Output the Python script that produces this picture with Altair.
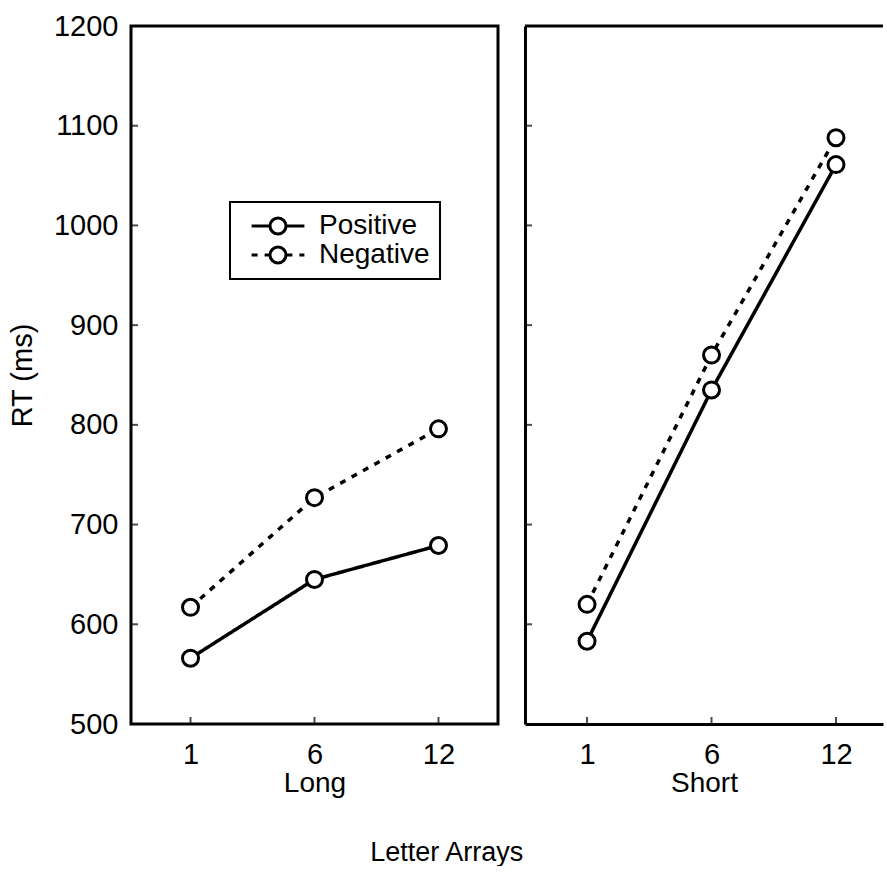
import altair as alt
import pandas as pd

# ---- data ----
x_levels = ["1", "6", "12"]
series_names = ["Positive", "Negative"]
marker_keys = ["pos", "neg"]
long_positive = [566, 645, 679]
long_negative = [617, 727, 796]
short_positive = [583, 835, 1061]
short_negative = [620, 870, 1088]
y_ticks = [500, 600, 700, 800, 900, 1000, 1100, 1200]
panel_titles = ["Long", "Short"]

FONT = "Liberation Sans"
H = 698


def frame(pos, neg):
    rows = []
    for s, k, vals in zip(series_names, marker_keys, [pos, neg]):
        for x, v in zip(x_levels, vals):
            rows.append({"size": x, "series": s, "series_pt": k, "rt": v})
    return pd.DataFrame(rows)


y_scale = alt.Scale(domain=[500, 1200], nice=False, zero=False)
x_scale_left = alt.Scale(type="point", domain=x_levels, padding=0.48)
x_scale_right = alt.Scale(type="point", domain=x_levels, padding=0.438, align=0.569)
dash_scale = alt.Scale(domain=series_names, range=[[1, 0], [6, 7]])
fill_scale = alt.Scale(domain=marker_keys, range=["white", "white"])

LX, LY = 99, 176

leg_line = alt.Legend(
    orient="none", legendX=LX, legendY=LY, title=None,
    symbolType="M-3.3,0L-1.05,0M1.05,0L3.3,0", symbolSize=256,
    symbolStrokeWidth=3, symbolStrokeColor="black", symbolFillColor="transparent",
    symbolOffset=24, labelOffset=27, labelFontSize=28, labelFont=FONT,
    labelColor="black", strokeColor="black", padding=10, rowPadding=1, zindex=1,
)
leg_pt = alt.Legend(
    orient="none", legendX=LX, legendY=LY, title=None,
    symbolType="circle", symbolSize=256, symbolStrokeWidth=3,
    symbolStrokeColor="black", symbolOpacity=1,
    symbolOffset=24, labelOffset=27, labelFontSize=28, labelFont=FONT,
    labelOpacity=0, padding=10, rowPadding=1, zindex=2,
)


def x_axis(title, show_domain):
    return alt.Axis(
        title=title, labelFontSize=29, titleFontSize=28, labelFont=FONT,
        titleFont=FONT, labelPadding=16, titlePadding=0, ticks=False,
        tickSize=0, domain=show_domain, domainColor="black", domainWidth=3,
        grid=False, labelColor="black", titleColor="black",
        titleFontWeight="normal", labelAngle=0,
    )


def y_axis(show):
    if show:
        return alt.Axis(
            title="RT (ms)", values=y_ticks, format="d", labelFontSize=29,
            titleFontSize=29, labelFont=FONT, titleFont=FONT, labelPadding=13,
            titlePadding=15.5, ticks=False, tickSize=0, domain=False, grid=False,
            labelColor="black", titleColor="black", titleFontWeight="normal",
        )
    return alt.Axis(
        title=None, labels=False, ticks=False, tickSize=0, grid=False,
        domain=True, domainColor="black", domainWidth=3,
    )


def panel(pos, neg, title, is_left, width, x_scale):
    df = frame(pos, neg)
    xa = x_axis(title, not is_left)
    ya = y_axis(is_left)

    def xenc():
        return alt.X("size:N", scale=x_scale, sort=x_levels, axis=xa)

    def yenc():
        return alt.Y("rt:Q", scale=y_scale, axis=ya)

    ytick = alt.Chart(pd.DataFrame({"rt": y_ticks})).mark_tick(
        orient="horizontal", size=6, thickness=2, color="black"
    ).encode(y=yenc(), x=alt.value(4))
    xtick = alt.Chart(pd.DataFrame({"size": x_levels})).mark_tick(
        orient="vertical", size=6, thickness=2, color="black"
    ).encode(x=xenc(), y=alt.value(H - 4))
    line = alt.Chart(df).mark_line(color="black", strokeWidth=3.5).encode(
        x=xenc(), y=yenc(),
        strokeDash=alt.StrokeDash("series:N", scale=dash_scale, legend=leg_line),
    )
    pts = alt.Chart(df).mark_point(
        filled=True, shape="circle", stroke="black", strokeWidth=3, size=256,
        opacity=1, fillOpacity=1, strokeOpacity=1,
    ).encode(
        x=xenc(), y=yenc(),
        fill=alt.Fill("series_pt:N", scale=fill_scale, legend=leg_pt),
    )
    layers = [ytick, xtick, line, pts]
    props = dict(width=width, height=H)
    if not is_left:
        top = alt.Chart(pd.DataFrame({"rt": [max(y_ticks)]})).mark_rule(
            color="black", strokeWidth=3
        ).encode(y=yenc())
        layers.append(top)
        props["view"] = alt.ViewBackground(stroke="transparent")
    return alt.layer(*layers).properties(**props)


left = panel(long_positive, long_negative, panel_titles[0], True, 367, x_scale_left)
right = panel(short_positive, short_negative, panel_titles[1], False, 358, x_scale_right)

chart = (
    alt.hconcat(left, right, spacing=22)
    .resolve_scale(x="independent", y="independent")
    .properties(
        title=alt.TitleParams(
            "Letter Arrays", orient="bottom", anchor="middle", fontSize=27,
            font=FONT, fontWeight="normal", offset=41, color="black",
        ),
        padding={"left": 7, "top": 10, "right": 0, "bottom": 0},
        background="white",
    )
    .configure(font=FONT)
    .configure_view(stroke="black", strokeWidth=3)
    .configure_legend(strokeWidth=2)
)

chart.save("out.html", embed_options={"renderer": "svg", "actions": False})
